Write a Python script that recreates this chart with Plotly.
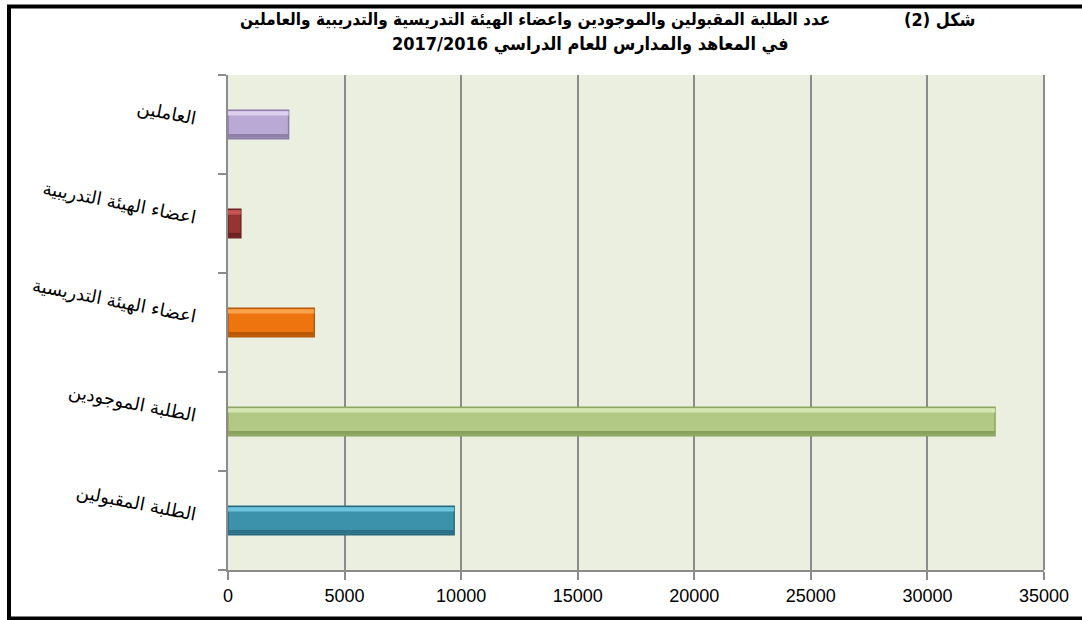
import plotly.graph_objects as go

categories = ["الطلبة المقبولين", "الطلبة الموجودين", "اعضاء الهيئة التدريسية",
              "اعضاء الهيئة التدريبية", "العاملين"]
values = [9700, 32900, 3700, 550, 2600]
bar_colors = ["#3C91AB", "#B2C986", "#EE7410", "#963432", "#B9A9D4"]
top_colors = ["#6CC3DC", "#D5E6B3", "#F8A24C", "#C65452", "#DCD0EE"]
bottom_colors = ["#2D7188", "#8BA25F", "#B85908", "#6C2220", "#8F80A8"]
edge_colors = ["#2A6A80", "#8EA864", "#B85A08", "#6E2523", "#8E7FAA"]
x_ticks = [0, 5000, 10000, 15000, 20000, 25000, 30000, 35000]

title_main = "عدد الطلبة المقبولين والموجودين واعضاء الهيئة التدريسية والتدريبية والعاملين"
title_fig = "شكل (2)"
title_sub = "في المعاهد والمدارس للعام الدراسي 2017/2016"

BW = 0.29
fig = go.Figure()
fig.add_trace(go.Bar(
    y=categories, x=values, orientation="h",
    marker=dict(color=bar_colors, line=dict(color=edge_colors, width=1.5)),
    width=BW, offset=-BW / 2, showlegend=False, hoverinfo="x+y",
))
fig.add_trace(go.Bar(
    y=categories, x=values, orientation="h",
    marker=dict(color=top_colors, line=dict(width=0)),
    width=0.045, offset=BW / 2 - 0.055, showlegend=False, hoverinfo="skip",
))
fig.add_trace(go.Bar(
    y=categories, x=values, orientation="h",
    marker=dict(color=bottom_colors, line=dict(width=0)),
    width=0.04, offset=-BW / 2 + 0.01, showlegend=False, hoverinfo="skip",
))

W, H = 1082, 620
L, R, T, B = 228, 38, 75, 50
pw, ph = W - L - R, H - T - B

def px(x):
    return (x - L) / pw

def py(y):
    return (H - B - y) / ph

fam = "DejaVu Sans Condensed, DejaVu Sans, Arial"

fig.update_layout(
    width=W, height=H,
    margin=dict(l=L, r=R, t=T, b=B),
    paper_bgcolor="white",
    plot_bgcolor="#EBEFDF",
    barmode="overlay",
    xaxis=dict(
        range=[0, 35000], tickvals=x_ticks, ticktext=[str(v) for v in x_ticks],
        showgrid=True, gridcolor="#8C8C8C", gridwidth=2,
        showline=True, linecolor="#8C8C8C", linewidth=2,
        ticks="outside", ticklen=8, tickcolor="#8C8C8C", tickwidth=2,
        tickfont=dict(family="Liberation Sans, Arial", size=18, color="black"),
        zeroline=False, fixedrange=True,
    ),
    yaxis=dict(
        type="category", categoryorder="array", categoryarray=categories,
        tickson="boundaries", ticks="outside", ticklen=8, tickcolor="#8C8C8C", tickwidth=2,
        showline=True, linecolor="#8C8C8C", linewidth=2, showgrid=False,
        tickangle=11, ticklabelstandoff=26, ticklabelshift=-6,
        tickfont=dict(family="DejaVu Sans, Noto Sans, Arial", size=18, color="black"),
        fixedrange=True,
    ),
    shapes=[
        dict(type="rect", xref="paper", yref="paper",
             x0=px(9), x1=px(1100), y0=py(618.5), y1=py(6.5),
             line=dict(color="black", width=4), fillcolor="rgba(0,0,0,0)", layer="above"),
        dict(type="line", xref="paper", yref="paper",
             x0=1, x1=1, y0=0, y1=1, line=dict(color="#8C8C8C", width=2)),
    ],
    annotations=[
        dict(text="<b>" + title_main + "</b>", xref="paper", yref="paper",
             x=px(535), y=py(20), showarrow=False,
             font=dict(family=fam, size=17, color="black"),
             xanchor="center", yanchor="middle"),
        dict(text="<b>" + title_fig + "</b>", xref="paper", yref="paper",
             x=px(940), y=py(20), showarrow=False,
             font=dict(family=fam, size=18, color="black"),
             xanchor="center", yanchor="middle"),
        dict(text="<b>" + title_sub + "</b>", xref="paper", yref="paper",
             x=px(590), y=py(44), showarrow=False,
             font=dict(family=fam, size=18, color="black"),
             xanchor="center", yanchor="middle"),
    ],
)

fig.write_html("out.html", config={"displayModeBar": False},
               post_script="document.body.style.margin='0px';document.body.style.overflow='hidden';")
